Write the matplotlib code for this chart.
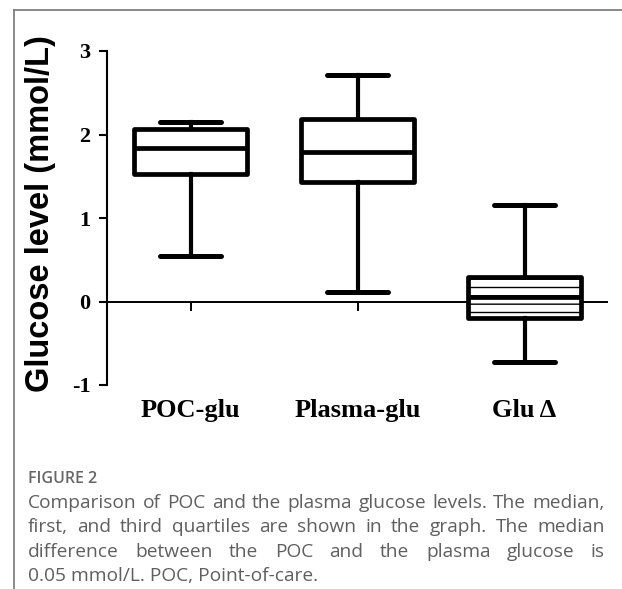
import matplotlib
matplotlib.use("Agg")
import matplotlib.pyplot as plt
from matplotlib.lines import Line2D

# box summary values (mmol/L)
groups = ["POC-glu", "Plasma-glu", "Glu \u0394"]
whis_lo = [0.55, 0.11, -0.73]
q1 = [1.53, 1.43, -0.20]
med = [1.84, 1.79, 0.05]
q3 = [2.06, 2.19, 0.29]
whis_hi = [2.15, 2.71, 1.16]
y_ticks = [-1, 0, 1, 2, 3]
y_tick_labels = ["-1", "0", "1", "2", "3"]

caption_head = "FIGURE 2"
caption_lines = [
    "Comparison of POC and the plasma glucose levels. The median,",
    "first, and third quartiles are shown in the graph. The median",
    "difference between the POC and the plasma glucose is",
    "0.05 mmol/L. POC, Point-of-care.",
]

W, H = 622, 589
INK = "black"
CAP = "#5f5f5f"
SERIF = "Liberation Serif"

plt.rcParams["hatch.color"] = "#444444"
plt.rcParams["hatch.linewidth"] = 1.0

fig = plt.figure(figsize=(W / 100, H / 100), dpi=100)
ax = fig.add_axes([107 / W, 1 - 385 / H, 501 / W, (385 - 51) / H])

stats = []
for i, g in enumerate(groups):
    stats.append(dict(label=g, whislo=whis_lo[i], q1=q1[i], med=med[i],
                      q3=q3[i], whishi=whis_hi[i], fliers=[]))

bp = ax.bxp(stats, positions=range(len(groups)), widths=0.68,
            patch_artist=True, showfliers=False,
            boxprops=dict(facecolor="white", edgecolor=INK, linewidth=3.4),
            medianprops=dict(color=INK, linewidth=3.4, solid_capstyle="butt"),
            whiskerprops=dict(color=INK, linewidth=3.0),
            capprops=dict(color=INK, linewidth=3.6, solid_capstyle="round"),
            capwidths=0.36)
for b in bp["boxes"]:
    b.set_joinstyle("round")
bp["boxes"][2].set_hatch("--")

ax.axhline(0, color=INK, lw=1.4, zorder=0)
for i in range(len(groups)):
    ax.plot([i, i], [0, -0.1], color=INK, lw=1.4, zorder=0)

ax.set_xlim(-0.5, 2.5)
ax.set_ylim(-1, 3)
ax.set_yticks(y_ticks)
ax.set_yticklabels(y_tick_labels, fontfamily=SERIF, fontweight="bold",
                   fontsize=16)
ax.tick_params(axis="y", direction="out", length=6, width=1.5, pad=6)
ax.set_xticks([])
for sp in ("top", "right", "bottom"):
    ax.spines[sp].set_visible(False)
ax.spines["left"].set_linewidth(1.5)
ax.patch.set_alpha(0)

for i, g in enumerate(groups):
    ax.text(i, -1.3, g, ha="center", va="center", fontfamily=SERIF,
            fontweight="bold", fontsize=19, clip_on=False)

fig.text(41 / W, 1 - 214 / H, "Glucose level (mmol/L)", rotation=90,
         ha="center", va="center", fontfamily="Liberation Sans",
         fontweight="bold", fontsize=23.5)

# page frame
fig.add_artist(Line2D([14 / W, 14 / W], [0, 1 - 10 / H], color="#777777",
                      lw=1.2, transform=fig.transFigure))
fig.add_artist(Line2D([14 / W, 1], [1 - 10 / H, 1 - 10 / H],
                      color="#777777", lw=1.2, transform=fig.transFigure))

# caption, justified
fig.text(28 / W, 1 - 479 / H, caption_head, ha="left", va="center",
         fontfamily="Open Sans", fontweight="semibold", fontsize=11.5,
         color="#666666")
x0, x1 = 28, 605
fs = 13.8
rend = fig.canvas.get_renderer()
for k, line in enumerate(caption_lines):
    yy = 1 - (503 + 24.3 * k) / H
    if k == len(caption_lines) - 1:
        fig.text(x0 / W, yy, line, ha="left", va="center",
                 fontfamily="Open Sans", fontsize=fs, color=CAP)
        continue
    words = line.split()
    arts = [fig.text(0, yy, w, ha="left", va="center",
                     fontfamily="Open Sans", fontsize=fs, color=CAP)
            for w in words]
    widths = [a.get_window_extent(rend).width for a in arts]
    gap = (x1 - x0 - sum(widths)) / (len(words) - 1)
    x = x0
    for a, wd in zip(arts, widths):
        a.set_x(x / W)
        x += wd + gap

fig.savefig("out.png", dpi=100)
